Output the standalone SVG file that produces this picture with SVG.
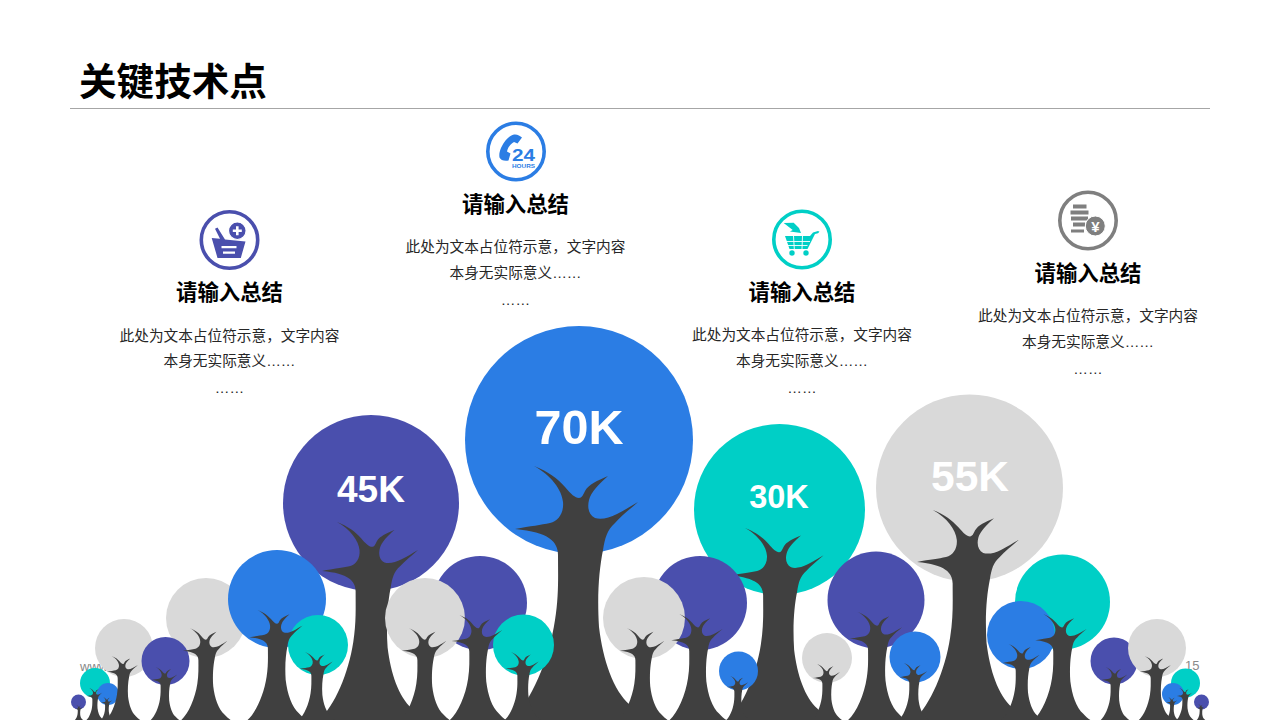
<svg xmlns="http://www.w3.org/2000/svg" width="1280" height="720" viewBox="0 0 1280 720">
<style>
text{font-family:"Noto Sans CJK SC","Liberation Sans",sans-serif}
.h{font-size:21.4px;font-weight:700;fill:#000;text-anchor:middle}
.b{font-size:14.67px;fill:#262626;text-anchor:middle}
.e{font-family:"Liberation Sans",Arial,sans-serif}
.n{font-family:"Liberation Sans",Arial,sans-serif;font-weight:700;fill:#fff;text-anchor:middle}
.f{font-family:"Liberation Sans",Arial,sans-serif;font-size:13px;fill:#898989}
.P{fill:#4A4FAD}.B{fill:#2B7DE4}.T{fill:#00CFC6}.G{fill:#D9D9D9}
.ring{fill:none;stroke-width:3.6}
.lat{font-family:"Liberation Sans",sans-serif;font-weight:700;text-anchor:middle}
</style>
<defs>
<path id="tree" fill="#404040" d="M-68 0C-48 -18 -30 -60 -24 -100C-20 -125 -21 -145 -21 -165C-21 -178 -30 -188 -64 -191C-48 -194 -38 -195 -29 -197C-20 -199 -15 -208 -16 -218C-17 -230 -28 -245 -45 -254C-30 -248 -22 -242 -14 -233C-8 -226 -4 -222 0 -222C3 -222 4 -225 6 -229C10 -236 18 -239 29 -244C20 -236 12 -228 10 -220C8 -212 10 -205 16 -202C22 -200 30 -202 38 -206C46 -210 52 -214 59 -218C50 -210 42 -204 36 -197C28 -190 26 -182 24 -170C20 -150 18 -125 20 -93C24 -60 34 -30 51 -15C56 -9 62 -4 68 0Z"/>
</defs>
<rect id="background" width="1280" height="720" fill="#fff"/>
<g id="header">
<text x="79" y="95" font-size="37.6" font-weight="700" fill="#000">关键技术点</text>
<rect x="70" y="108" width="1140" height="1" fill="#A6A6A6"/>
</g>
<g id="footer">
<text class="f" x="80" y="671">www</text>
<text class="f" x="1185" y="670">15</text>
</g>
<g id="col1">
<g id="icon1">
<circle class="ring" cx="229.500" cy="240" r="28.200" stroke="#4A4FAD"/>
<path fill="#4A4FAD" fill-rule="evenodd" d="M211.700 238l8.300 .8 -5 -10 2.500 -1.300 7.500 12 20.500 2 -4.700 16.500h-23.300zM221.500 246v2.200h15v-2.200zM223 251.500v2.200h12v-2.200z"/>
<circle cx="237.300" cy="230.700" r="8.800" fill="#4A4FAD" stroke="#fff" stroke-width="1.200"/>
<path fill="#fff" d="M236 226.200h2.600v3.200h3.200v2.600h-3.200v3.200h-2.600v-3.200h-3.200v-2.600h3.200z"/>
</g>
<text class="h" x="229.500" y="300">请输入总结</text>
<text class="b" x="229.500" y="341">此处为文本占位符示意，文字内容</text>
<text class="b" x="229.500" y="366">本身无实际意义<tspan class="e">……</tspan></text>
<text class="b e" x="229.500" y="393">……</text>
</g>
<g id="col2">
<g id="icon2">
<circle class="ring" cx="516" cy="151.500" r="28.200" stroke="#2B7DE4"/>
<path fill="#2B7DE4" d="M514 134.500c3 -.5 6 1 8 3l-4.500 6 -3.500 -1.500c-3.500 2 -6 5 -7 9.500l3.500 2 -2 7c-4 1 -8 -.5 -9 -3 -1 -5 2 -12 6 -17 2.500 -3 5.500 -5.500 8.500 -6z"/>
<text class="lat" x="523.500" y="161" font-size="17" textLength="23" lengthAdjust="spacingAndGlyphs" fill="#2B7DE4">24</text>
<text class="lat" x="523.500" y="167.500" font-size="6" textLength="23" lengthAdjust="spacingAndGlyphs" fill="#2B7DE4">HOURS</text>
</g>
<text class="h" x="515.500" y="212">请输入总结</text>
<text class="b" x="515.500" y="252">此处为文本占位符示意，文字内容</text>
<text class="b" x="515.500" y="278">本身无实际意义<tspan class="e">……</tspan></text>
<text class="b e" x="515.500" y="305">……</text>
</g>
<g id="col3">
<g id="icon3">
<circle class="ring" cx="802" cy="239.500" r="28.200" stroke="#00CFC6"/>
<path fill="#00CFC6" d="M783.700 223l10 -.3 5.300 5.300 2 5 -11 -1.500 2.700 -1.500z"/>
<path fill="#00CFC6" d="M785 236h25l3 -3.500 5 -1.500 1.500 .8 -1.500 1.500 -3 .7 -7.500 15h-18z"/>
<path fill="none" stroke="#fff" stroke-width=".9" d="M793.500 236l.8 13M802.500 236l-.5 13M786 241.500h24M787.500 245.500h20"/>
<circle cx="792" cy="253" r="2.700" fill="#00CFC6"/><circle cx="806" cy="253" r="2.700" fill="#00CFC6"/>
</g>
<text class="h" x="802" y="300">请输入总结</text>
<text class="b" x="802" y="340">此处为文本占位符示意，文字内容</text>
<text class="b" x="802" y="366">本身无实际意义<tspan class="e">……</tspan></text>
<text class="b e" x="802" y="393">……</text>
</g>
<g id="col4">
<g id="icon4">
<circle class="ring" cx="1088" cy="220.500" r="28.200" stroke="#7F7F7F"/>
<path fill="#7F7F7F" d="M1073 204.500h13.500v4h-13.500zM1070.500 210.500h18v4h-18zM1071 216.500h17v4h-17zM1073 222.500h12v4h-12zM1071 229.500h13v3h-13z"/>
<circle cx="1095.300" cy="226" r="10" fill="#7F7F7F" stroke="#fff" stroke-width="1"/>
<text class="lat" x="1095.300" y="231.500" font-size="15" fill="#fff">¥</text>
</g>
<text class="h" x="1088" y="281">请输入总结</text>
<text class="b" x="1088" y="321">此处为文本占位符示意，文字内容</text>
<text class="b" x="1088" y="347">本身无实际意义<tspan class="e">……</tspan></text>
<text class="b e" x="1088" y="374">……</text>
</g>
<g id="trees-large">
<circle class="G" cx="969.500" cy="488" r="93.500"/>
<circle class="T" cx="779.500" cy="509.500" r="85.500"/>
<circle class="P" cx="371" cy="503" r="88"/>
<circle class="B" cx="579" cy="440" r="114"/>
<use href="#tree" transform="translate(372 720) scale(.78)"/>
<use href="#tree" transform="translate(579 720)"/>
<use href="#tree" transform="translate(779 720) scale(.756)"/>
<use href="#tree" transform="translate(970 720) scale(.827)"/>
<text class="n" x="371" y="502" font-size="37">45K</text>
<text class="n" x="579" y="443.500" font-size="48.500">70K</text>
<text class="n" x="779" y="508" font-size="32.500">30K</text>
<text class="n" x="970" y="490.500" font-size="42.500">55K</text>
</g>
<g id="trees-small">
<circle class="G" cx="206" cy="618" r="40"/>
<circle class="G" cx="124" cy="648" r="29"/>
<circle class="P" cx="165.500" cy="661" r="24"/>
<circle class="T" cx="95" cy="683" r="15"/>
<circle class="B" cx="108" cy="694" r="11"/>
<circle class="P" cx="78.500" cy="702" r="7.500"/>
<circle class="B" cx="277" cy="599" r="49"/>
<circle class="T" cx="318" cy="645" r="30"/>
<circle class="P" cx="480" cy="603" r="47"/>
<circle class="G" cx="425" cy="618" r="40"/>
<circle class="T" cx="523.500" cy="645" r="30.500"/>
<circle class="P" cx="700" cy="603" r="47"/>
<circle class="G" cx="644" cy="618" r="41"/>
<circle class="B" cx="738.500" cy="671" r="19.500"/>
<circle class="G" cx="827" cy="658" r="25"/>
<circle class="P" cx="876" cy="600" r="48.500"/>
<circle class="B" cx="915" cy="657" r="25.500"/>
<circle class="T" cx="1062.500" cy="602" r="47.500"/>
<circle class="B" cx="1021" cy="635" r="34"/>
<circle class="P" cx="1114" cy="661" r="23.500"/>
<circle class="G" cx="1157" cy="648" r="29"/>
<circle class="T" cx="1185.500" cy="683" r="14.500"/>
<circle class="B" cx="1173" cy="694" r="11"/>
<circle class="P" cx="1201.500" cy="702" r="7.500"/>
<use href="#tree" transform="translate(79 720) scale(.059)"/>
<use href="#tree" transform="translate(95 720) scale(.126)"/>
<use href="#tree" transform="translate(107 720) scale(.091)"/>
<use href="#tree" transform="translate(123 720) scale(.252)"/>
<use href="#tree" transform="translate(165 720) scale(.209)"/>
<use href="#tree" transform="translate(206 720) scale(.362)"/>
<use href="#tree" transform="translate(277 720) scale(.433)"/>
<use href="#tree" transform="translate(317 720) scale(.268)"/>
<use href="#tree" transform="translate(425 720) scale(.362)"/>
<use href="#tree" transform="translate(478 720) scale(.413)"/>
<use href="#tree" transform="translate(523 720) scale(.268)"/>
<use href="#tree" transform="translate(643 720) scale(.362)"/>
<use href="#tree" transform="translate(698 720) scale(.417)"/>
<use href="#tree" transform="translate(738 720) scale(.173)"/>
<use href="#tree" transform="translate(827 720) scale(.22)"/>
<use href="#tree" transform="translate(877 720) scale(.425)"/>
<use href="#tree" transform="translate(914 720) scale(.224)"/>
<use href="#tree" transform="translate(1062 720) scale(.417)"/>
<use href="#tree" transform="translate(1022 720) scale(.299)"/>
<use href="#tree" transform="translate(1115 720) scale(.209)"/>
<use href="#tree" transform="translate(1156 720) scale(.252)"/>
<use href="#tree" transform="translate(1185 720) scale(.126)"/>
<use href="#tree" transform="translate(1172 720) scale(.091)"/>
<use href="#tree" transform="translate(1201 720) scale(.063)"/>
</g>
</svg>
